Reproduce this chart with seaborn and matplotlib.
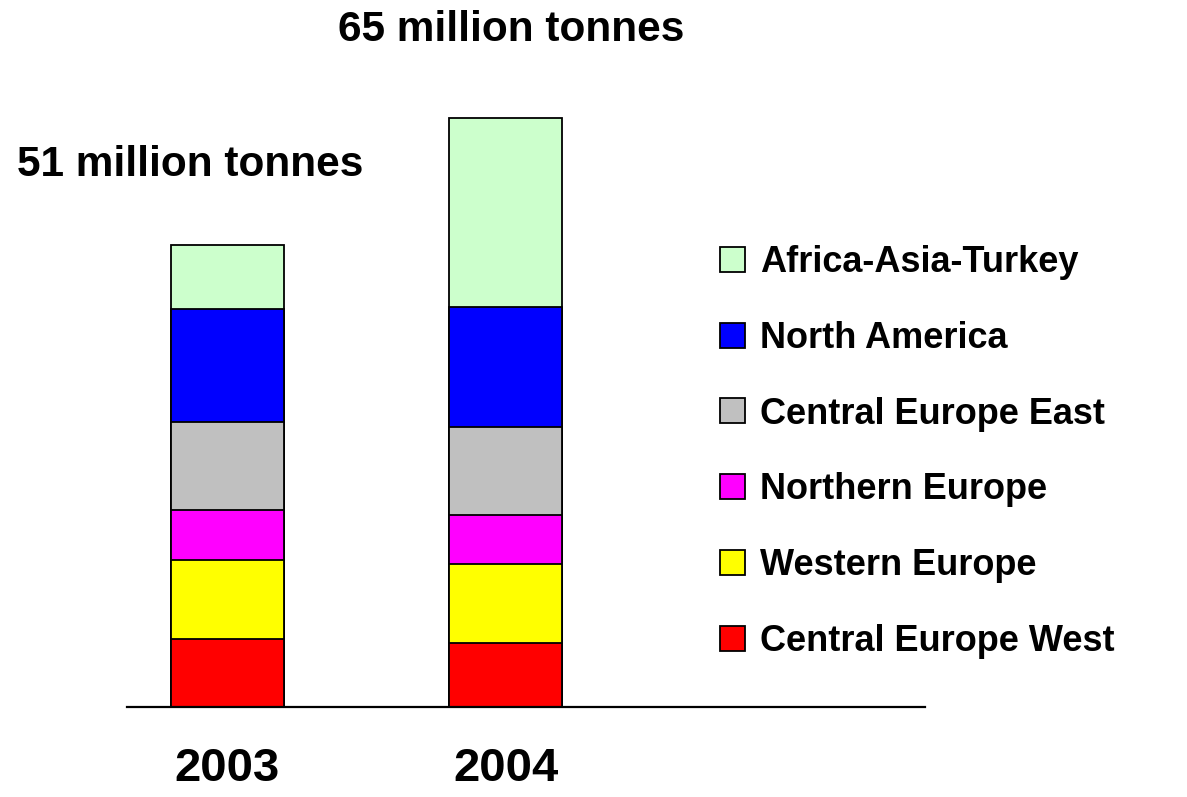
import matplotlib
matplotlib.use("Agg")
import matplotlib.pyplot as plt
import seaborn as sns
import pandas as pd
from matplotlib.patches import Patch

# ---- data (million tonnes) ----
years = ["2003", "2004"]
regions = ["Central Europe West", "Western Europe", "Northern Europe",
           "Central Europe East", "North America", "Africa-Asia-Turkey"]
central_europe_west = [7.5, 7.1]
western_europe = [8.7, 8.7]
northern_europe = [5.5, 5.35]
central_europe_east = [9.75, 9.8]
north_america = [12.45, 13.25]
africa_asia_turkey = [7.1, 20.8]
region_colors = ["#FF0000", "#FFFF00", "#FF00FF", "#C0C0C0", "#0000FF", "#CCFFCC"]

series = [central_europe_west, western_europe, northern_europe,
          central_europe_east, north_america, africa_asia_turkey]

rows = []
for reg, vals in zip(regions, series):
    for y, v in zip(years, vals):
        rows.append({"year": y, "region": reg, "value": v})
df = pd.DataFrame(rows)
df["region"] = pd.Categorical(df["region"], categories=regions, ordered=True)
df = df.sort_values(["year", "region"])
df["cum"] = df.groupby("year")["value"].cumsum()

sns.set_style("white")
plt.rcParams["font.family"] = ["Liberation Sans", "DejaVu Sans"]
plt.rcParams["font.weight"] = "bold"
plt.rcParams["text.color"] = "black"
plt.rcParams["xtick.color"] = "black"
plt.rcParams["axes.labelcolor"] = "black"

W, H = 1187, 797
fig = plt.figure(figsize=(W / 100, H / 100), dpi=100)
ax = fig.add_axes([127 / W, 1 - 707 / H, (925 - 127) / W, 634 / H])

# draw cumulative bars from the top layer down so lower layers overlay
for reg, col in reversed(list(zip(regions, region_colors))):
    sub = df[df["region"] == reg]
    sns.barplot(data=sub, x="year", y="cum", order=years, color=col,
                saturation=1, width=0.405, edgecolor="black", linewidth=1.3,
                ax=ax, errorbar=None)

ax.set_xlim(-0.36, 2.505)
ax.set_ylim(0, 70)
ax.set_xlabel("")
ax.set_ylabel("")
ax.set_yticks([])
for s in ["left", "right", "top"]:
    ax.spines[s].set_visible(False)
ax.spines["bottom"].set_color("black")
ax.spines["bottom"].set_linewidth(1.6)
ax.tick_params(axis="x", length=0, pad=29, labelsize=34, labelcolor="black")
for lab in ax.get_xticklabels():
    lab.set_fontweight("bold")

# total annotations
totals = df.groupby("year")["value"].sum()
offsets = {"2003": (-37, 80), "2004": (5, 88)}
for i, y in enumerate(years):
    t = totals[y]
    ax.annotate(f"{int(round(t))} million tonnes", xy=(i, t),
                xytext=offsets[y], textcoords="offset pixels",
                ha="center", va="center", fontsize=30.5, fontweight="bold",
                color="black", annotation_clip=False)

# legend
handles = [Patch(facecolor=c, edgecolor="black", linewidth=1.3)
           for c in region_colors][::-1]
labels = regions[::-1]
fig.legend(handles, labels, loc="upper left",
           bbox_to_anchor=(720 / W, 1 - 245 / H), bbox_transform=fig.transFigure,
           frameon=False, borderpad=0, borderaxespad=0,
           handlelength=0.69, handleheight=0.69, handletextpad=0.42,
           labelspacing=1.13, prop={"size": 26, "weight": "bold"},
           labelcolor="black")

fig.savefig("out.png", dpi=100)
